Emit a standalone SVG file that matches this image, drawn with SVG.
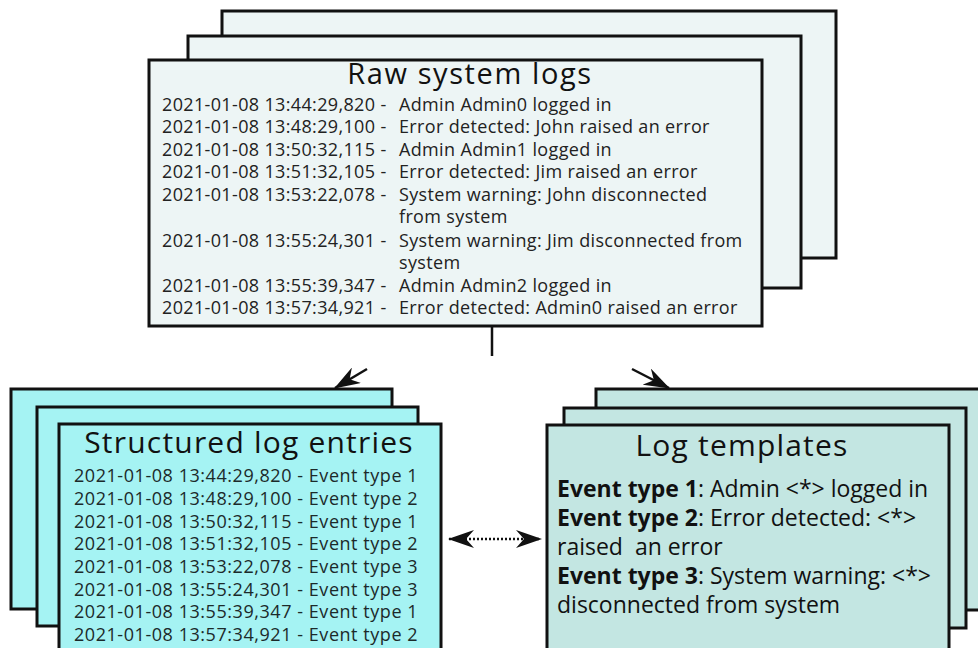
<svg xmlns="http://www.w3.org/2000/svg" width="978" height="648" viewBox="0 0 978 648">
<style>
  .box { stroke: #111; stroke-width: 3; }
  .raw { fill: #edf5f5; }
  .str { fill: #a5f3f3; }
  .tpl { fill: #c3e6e2; }
  .title { font-family: "Open Sans", "Liberation Sans", sans-serif; font-size: 30px; letter-spacing: 1.2px; fill: #111; text-anchor: middle; }
  .log { font-family: "Open Sans", "Liberation Sans", sans-serif; font-size: 18px; letter-spacing: 0.35px; fill: #222; }
  .ent { font-family: "Open Sans", "Liberation Sans", sans-serif; font-size: 18px; letter-spacing: 0.55px; fill: #1c2a2a; }
  .tp { font-family: "Open Sans", "Liberation Sans", sans-serif; font-size: 23px; fill: #111; }
  .b { font-weight: bold; }
  .conn { stroke: #111; stroke-width: 2.5; fill: none; }
</style>
<defs>
  <marker id="head" viewBox="0 0 26 18" markerWidth="26" markerHeight="18" refX="25" refY="9" orient="auto-start-reverse" markerUnits="userSpaceOnUse">
    <path d="M0,0 L26,9 L0,18 L8,9 z" fill="#111"/>
  </marker>
</defs>

<g id="raw-logs">
  <rect class="box raw" x="222" y="11" width="614" height="247"/>
  <rect class="box raw" x="188" y="36" width="613" height="252"/>
  <rect class="box raw" x="149" y="60" width="613" height="266"/>
  <text class="title" x="470" y="84" style="font-size:29px;letter-spacing:1.6px">Raw system logs</text>
  <text class="log" y="111"><tspan x="162">2021-01-08 13:44:29,820 -</tspan><tspan x="399">Admin Admin0 logged in</tspan></text>
  <text class="log" y="133"><tspan x="162">2021-01-08 13:48:29,100 -</tspan><tspan x="399">Error detected: John raised an error</tspan></text>
  <text class="log" y="156"><tspan x="162">2021-01-08 13:50:32,115 -</tspan><tspan x="399">Admin Admin1 logged in</tspan></text>
  <text class="log" y="178"><tspan x="162">2021-01-08 13:51:32,105 -</tspan><tspan x="399">Error detected: Jim raised an error</tspan></text>
  <text class="log" y="201"><tspan x="162">2021-01-08 13:53:22,078 -</tspan><tspan x="399">System warning: John disconnected</tspan></text>
  <text class="log" x="399" y="223">from system</text>
  <text class="log" y="247"><tspan x="162">2021-01-08 13:55:24,301 -</tspan><tspan x="399">System warning: Jim disconnected from</tspan></text>
  <text class="log" x="399" y="269">system</text>
  <text class="log" y="292"><tspan x="162">2021-01-08 13:55:39,347 -</tspan><tspan x="399">Admin Admin2 logged in</tspan></text>
  <text class="log" y="314"><tspan x="162">2021-01-08 13:57:34,921 -</tspan><tspan x="399">Error detected: Admin0 raised an error</tspan></text>
</g>

<g id="structured-entries">
  <rect class="box str" x="11" y="389" width="381" height="220"/>
  <rect class="box str" x="37" y="407" width="381" height="219"/>
  <rect class="box str" x="59" y="424" width="382" height="240"/>
  <text class="title" x="249" y="453">Structured log entries</text>
  <text class="ent" x="74" y="482">2021-01-08 13:44:29,820 - Event type 1</text>
  <text class="ent" x="74" y="505">2021-01-08 13:48:29,100 - Event type 2</text>
  <text class="ent" x="74" y="528">2021-01-08 13:50:32,115 - Event type 1</text>
  <text class="ent" x="74" y="550">2021-01-08 13:51:32,105 - Event type 2</text>
  <text class="ent" x="74" y="573">2021-01-08 13:53:22,078 - Event type 3</text>
  <text class="ent" x="74" y="596">2021-01-08 13:55:24,301 - Event type 3</text>
  <text class="ent" x="74" y="618">2021-01-08 13:55:39,347 - Event type 1</text>
  <text class="ent" x="74" y="641">2021-01-08 13:57:34,921 - Event type 2</text>
</g>

<g id="log-templates">
  <rect class="box tpl" x="596" y="389" width="400" height="221"/>
  <rect class="box tpl" x="564" y="408" width="402" height="220"/>
  <rect class="box tpl" x="547" y="425" width="402" height="240"/>
  <text class="title" x="742" y="456">Log templates</text>
  <text class="tp" x="557" y="497"><tspan class="b">Event type 1</tspan>: Admin &lt;*&gt; logged in</text>
  <text class="tp" x="557" y="526"><tspan class="b">Event type 2</tspan>: Error detected: &lt;*&gt;</text>
  <text class="tp" x="557" y="555" xml:space="preserve">raised  an error</text>
  <text class="tp" x="557" y="584"><tspan class="b">Event type 3</tspan>: System warning: &lt;*&gt;</text>
  <text class="tp" x="557" y="613">disconnected from system</text>
</g>

<g id="connectors">
  <line class="conn" x1="367" y1="369" x2="335" y2="388" marker-end="url(#head)"/>
  <line class="conn" x1="492" y1="326" x2="492" y2="356"/>
  <line class="conn" x1="632" y1="369" x2="669" y2="388" marker-end="url(#head)"/>
  <line class="conn" x1="449" y1="539" x2="541" y2="539" stroke-dasharray="2 2" stroke-width="2" marker-start="url(#head)" marker-end="url(#head)"/>
</g>
</svg>
